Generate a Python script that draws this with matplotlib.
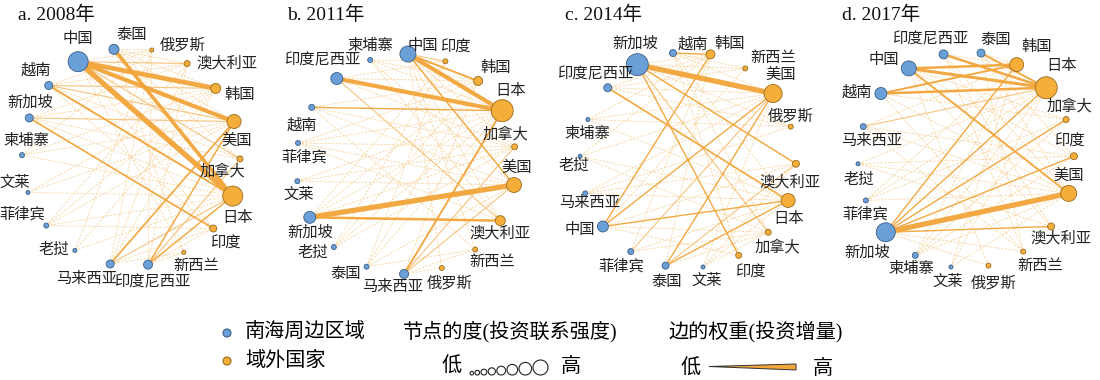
import numpy as np
import matplotlib.pyplot as plt
from matplotlib.patches import Circle, Polygon

plt.rcParams['font.family'] = ['Liberation Serif', 'Noto Sans CJK SC']

# =========================================================
# DATA
# =========================================================
# countries around the South China Sea (blue); everything else is "outside" (orange)
scs_countries = ["中国", "越南", "新加坡", "柬埔寨", "文莱", "菲律宾",
                 "老挝", "马来西亚", "印度尼西亚", "泰国"]

years = ["a. 2008年", "b. 2011年", "c. 2014年", "d. 2017年"]

# node order round the circle (clockwise) and node degree
nodes_2008 = ["中国", "泰国", "俄罗斯", "澳大利亚", "韩国", "美国", "加拿大", "日本", "印度",
              "新西兰", "印度尼西亚", "马来西亚", "老挝", "菲律宾", "文莱", "柬埔寨", "新加坡", "越南"]
degree_2008 = [10, 5, 2, 3, 5, 7, 3, 10, 3.5, 2, 4.5, 4, 2, 2.5, 2, 2.5, 4, 4]

nodes_2011 = ["中国", "印度", "韩国", "日本", "加拿大", "美国", "澳大利亚", "新西兰", "俄罗斯",
              "马来西亚", "泰国", "老挝", "新加坡", "文莱", "菲律宾", "越南", "印度尼西亚", "柬埔寨"]
degree_2011 = [8, 2.5, 4.5, 11, 3, 7.5, 5, 2.5, 2.5, 4.5, 2.5, 2.5, 6, 2.5, 2.5, 3, 6, 2.5]

nodes_2014 = ["新加坡", "越南", "韩国", "新西兰", "美国", "俄罗斯", "澳大利亚", "日本", "加拿大",
              "印度", "文莱", "泰国", "菲律宾", "中国", "马来西亚", "老挝", "柬埔寨", "印度尼西亚"]
degree_2014 = [11, 3.5, 4.5, 2.5, 9, 2.5, 3.5, 7, 3, 3, 2, 3.5, 3, 5.5, 2.5, 2, 2, 4]

nodes_2017 = ["中国", "印度尼西亚", "泰国", "韩国", "日本", "加拿大", "印度", "美国", "澳大利亚",
              "新西兰", "俄罗斯", "文莱", "柬埔寨", "新加坡", "菲律宾", "老挝", "马来西亚", "越南"]
degree_2017 = [7.5, 4.5, 4, 7, 11, 3, 3.5, 8, 3.5, 2.5, 2.5, 2, 3, 9.5, 2.5, 2, 3, 6]

# edges (investment increment) and weights
edges_2008 = ["中国-日本", "中国-韩国", "中国-美国", "泰国-日本",
              "越南-日本", "新加坡-印度", "马来西亚-美国", "印度尼西亚-美国", "印度尼西亚-日本",
              "越南-韩国", "越南-美国", "新加坡-美国", "中国-加拿大", "中国-澳大利亚", "马来西亚-日本",
              "印度尼西亚-加拿大",
              "泰国-俄罗斯", "泰国-澳大利亚", "泰国-韩国", "泰国-美国", "泰国-新西兰", "中国-俄罗斯",
              "中国-印度", "中国-新西兰", "越南-澳大利亚", "越南-加拿大", "越南-印度", "越南-俄罗斯",
              "新加坡-韩国", "新加坡-日本", "新加坡-澳大利亚", "新加坡-加拿大", "柬埔寨-韩国",
              "柬埔寨-美国", "柬埔寨-日本", "柬埔寨-俄罗斯", "文莱-美国", "文莱-日本", "文莱-韩国",
              "菲律宾-日本", "菲律宾-美国", "菲律宾-韩国", "菲律宾-澳大利亚", "菲律宾-印度",
              "老挝-日本", "老挝-韩国", "老挝-俄罗斯", "马来西亚-韩国", "马来西亚-澳大利亚",
              "马来西亚-俄罗斯", "马来西亚-新西兰", "印度尼西亚-澳大利亚", "印度尼西亚-俄罗斯",
              "印度尼西亚-新西兰", "印度尼西亚-印度", "马来西亚-印度", "泰国-加拿大"]
weight_2008 = [5, 4.5, 4, 3.5, 2, 1.8, 1.8, 1.6, 1.6] + [1.2] * 7 + [1] * 41

edges_2011 = ["新加坡-美国", "中国-日本", "印度尼西亚-日本", "新加坡-澳大利亚", "中国-韩国",
              "马来西亚-日本", "中国-美国", "越南-日本", "马来西亚-加拿大", "马来西亚-美国",
              "印度尼西亚-澳大利亚", "中国-印度",
              "柬埔寨-韩国", "柬埔寨-日本", "柬埔寨-印度", "柬埔寨-美国", "柬埔寨-澳大利亚",
              "中国-加拿大", "中国-澳大利亚", "中国-新西兰", "中国-俄罗斯", "越南-韩国", "越南-美国",
              "越南-加拿大", "越南-新西兰", "菲律宾-日本", "菲律宾-加拿大", "菲律宾-美国",
              "菲律宾-澳大利亚", "菲律宾-韩国", "文莱-日本", "文莱-加拿大", "文莱-美国", "新加坡-日本",
              "新加坡-韩国", "新加坡-加拿大", "新加坡-印度", "老挝-日本", "老挝-韩国", "老挝-加拿大",
              "老挝-印度", "泰国-日本", "泰国-韩国", "泰国-美国", "泰国-印度", "泰国-新西兰",
              "马来西亚-韩国", "马来西亚-新西兰", "马来西亚-俄罗斯", "印度尼西亚-韩国",
              "印度尼西亚-印度", "印度尼西亚-加拿大"]
weight_2011 = [5, 4, 4, 2.5, 2, 2, 1.6, 1.5, 1.2, 1.2, 1.2, 1.2] + [1] * 40

edges_2014 = ["新加坡-美国", "印度尼西亚-日本", "新加坡-澳大利亚", "新加坡-印度", "越南-韩国",
              "中国-韩国", "中国-日本", "中国-美国", "泰国-美国", "泰国-日本", "菲律宾-美国",
              "新加坡-加拿大", "泰国-澳大利亚",
              "越南-新西兰", "越南-美国", "越南-日本", "越南-印度", "越南-加拿大", "新加坡-韩国",
              "新加坡-新西兰", "新加坡-俄罗斯", "印度尼西亚-韩国", "印度尼西亚-新西兰",
              "印度尼西亚-美国", "印度尼西亚-俄罗斯", "柬埔寨-韩国", "柬埔寨-美国", "柬埔寨-日本",
              "柬埔寨-俄罗斯", "老挝-韩国", "老挝-日本", "老挝-美国", "老挝-加拿大", "马来西亚-日本",
              "马来西亚-美国", "马来西亚-俄罗斯", "马来西亚-澳大利亚", "中国-澳大利亚", "中国-加拿大",
              "中国-印度", "中国-新西兰", "菲律宾-日本", "菲律宾-加拿大", "菲律宾-韩国", "泰国-加拿大",
              "泰国-韩国", "文莱-日本", "文莱-加拿大", "文莱-澳大利亚", "文莱-美国"]
weight_2014 = [5, 1.8, 1.6, 1.5, 1.5, 1.5, 1.5, 1.5, 1.5, 1.5, 1.2, 1.2, 1.2] + [1] * 37

edges_2017 = ["新加坡-美国", "中国-日本", "中国-韩国", "越南-日本", "印度尼西亚-日本", "越南-韩国",
              "泰国-日本", "中国-美国", "新加坡-韩国", "新加坡-日本", "新加坡-加拿大", "新加坡-印度",
              "新加坡-澳大利亚", "马来西亚-日本",
              "印度尼西亚-韩国", "印度尼西亚-美国", "印度尼西亚-澳大利亚", "印度尼西亚-新西兰",
              "泰国-韩国", "泰国-美国", "泰国-印度", "泰国-新西兰", "中国-加拿大", "中国-印度",
              "中国-澳大利亚", "中国-俄罗斯", "越南-加拿大", "越南-美国", "越南-新西兰",
              "马来西亚-韩国", "马来西亚-美国", "马来西亚-印度", "老挝-日本", "老挝-印度", "老挝-美国",
              "老挝-澳大利亚", "菲律宾-日本", "菲律宾-韩国", "菲律宾-美国", "菲律宾-加拿大",
              "柬埔寨-日本", "柬埔寨-韩国", "柬埔寨-美国", "柬埔寨-加拿大", "柬埔寨-印度",
              "文莱-日本", "文莱-美国", "文莱-韩国", "新加坡-新西兰", "新加坡-俄罗斯", "马来西亚-新西兰"]
weight_2017 = [5, 3, 2.5, 2.5, 2.5, 2, 2, 2, 1.5, 1.5, 1.5, 1.5, 1.5, 1.2] + [1] * 37

# =========================================================
# LAYOUT (pixel space, y downwards)
# =========================================================
panels = [
    dict(center=(131, 157), radius=109, start=119, title_x=18,
         label_off={"中国": (0, -23), "泰国": (18, -14), "俄罗斯": (31, -5), "澳大利亚": (40, 0),
                    "韩国": (24, 6), "美国": (3, 19), "加拿大": (-18, 12), "日本": (5, 22),
                    "印度": (12, 15), "新西兰": (12, 14), "印度尼西亚": (4, 17), "马来西亚": (-24, 15),
                    "老挝": (-21, 0), "菲律宾": (-24, -11), "文莱": (-13, -10), "柬埔寨": (4, -14),
                    "新加坡": (1, -15), "越南": (-13, -15)}),
    dict(center=(406, 164), radius=110, start=89, title_x=287,
         label_off={"中国": (15, -8), "印度": (10, -14), "韩国": (17, -13), "日本": (8, -20),
                    "加拿大": (-9, -13), "美国": (3, -17), "澳大利亚": (0, 13), "新西兰": (17, 13),
                    "俄罗斯": (8, 15), "马来西亚": (-11, 13), "泰国": (-21, 8), "老挝": (-21, 6),
                    "新加坡": (0, 15), "文莱": (1, 13), "菲律宾": (6, 14), "越南": (-10, 18),
                    "印度尼西亚": (-15, -18), "柬埔寨": (0, -14)}),
    dict(center=(688, 160), radius=108, start=118, title_x=565,
         label_off={"新加坡": (-2, -21), "越南": (20, -9), "韩国": (19, -11), "新西兰": (28, -10),
                    "美国": (8, -19), "俄罗斯": (0, -11), "澳大利亚": (-6, 19), "日本": (0, 19),
                    "加拿大": (9, 15), "印度": (12, 17), "文莱": (4, 14), "泰国": (1, 17),
                    "菲律宾": (-10, 15), "中国": (-23, 4), "马来西亚": (4, 10), "老挝": (-6, 10),
                    "柬埔寨": (-1, 14), "印度尼西亚": (-13, -14)}),
    dict(center=(966, 160), radius=108, start=122, title_x=842,
         label_off={"中国": (-25, -8), "印度尼西亚": (-13, -15), "泰国": (15, -13), "韩国": (20, -18),
                    "日本": (15, -22), "加拿大": (3, -13), "印度": (-5, -15), "美国": (0, -18),
                    "澳大利亚": (10, 12), "新西兰": (17, 15), "俄罗斯": (5, 17), "文莱": (-3, 15),
                    "柬埔寨": (-4, 14), "新加坡": (-19, 20), "菲律宾": (-1, 14), "老挝": (1, 16),
                    "马来西亚": (8, 14), "越南": (-24, -1)}),
]

BLUE, BLUE_EDGE = "#6a9fd8", "#3b5f86"
ORANGE, ORANGE_EDGE = "#f6ae3a", "#9a6a1c"
LINE = "#f2a53a"


def edge_style(w):
    if w <= 1:
        return dict(color="#f9d8a6", lw=0.6, ls=(0, (3, 1.5)), zorder=1)
    if w < 1.5:
        return dict(color="#f6c47e", lw=0.8, ls="-", zorder=2)
    return dict(color=LINE, lw=0.8 * (w - 1) + 0.6, ls="-", zorder=3, alpha=0.95)


def draw_panel(ax, title, nodes, degree, edges, weights, lay):
    cx, cy = lay["center"]
    n = len(nodes)
    ang = np.deg2rad(lay["start"] - 360.0 / n * np.arange(n))
    xs = cx + lay["radius"] * np.cos(ang)
    ys = cy - lay["radius"] * np.sin(ang)
    pos = {name: (x, y) for name, x, y in zip(nodes, xs, ys)}

    order = np.argsort(weights)
    for k in order:
        a, b = edges[k].split("-")
        st = edge_style(weights[k])
        ax.plot([pos[a][0], pos[b][0]], [pos[a][1], pos[b][1]],
                solid_capstyle="butt", **st)

    for name, d in zip(nodes, degree):
        inside = name in scs_countries
        ax.add_patch(Circle(pos[name], radius=d,
                            facecolor=BLUE if inside else ORANGE,
                            edgecolor=BLUE_EDGE if inside else ORANGE_EDGE,
                            lw=0.6, zorder=5))
        dx, dy = lay["label_off"][name]
        ax.text(pos[name][0] + dx, pos[name][1] + dy, name, fontsize=11,
                ha="center", va="center", color="#222222", zorder=6)

    ax.text(lay["title_x"], 15, title, fontsize=14, ha="left", va="center", color="#111111")


fig = plt.figure(figsize=(11, 3.8), dpi=100)
ax = fig.add_axes([0, 0, 1, 1])
ax.set_xlim(0, 1100)
ax.set_ylim(380, 0)
ax.axis("off")

all_nodes = [nodes_2008, nodes_2011, nodes_2014, nodes_2017]
all_deg = [degree_2008, degree_2011, degree_2014, degree_2017]
all_edges = [edges_2008, edges_2011, edges_2014, edges_2017]
all_w = [weight_2008, weight_2011, weight_2014, weight_2017]
for i in range(4):
    draw_panel(ax, years[i], all_nodes[i], all_deg[i], all_edges[i], all_w[i], panels[i])

# ---------------- legend ----------------
LEG_FS = 14.5
ax.add_patch(Circle((227, 333), 4, facecolor=BLUE, edgecolor=BLUE_EDGE, lw=0.8))
ax.text(245, 333, "南海周边区域", fontsize=LEG_FS, ha="left", va="center")
ax.add_patch(Circle((227, 361), 4, facecolor=ORANGE, edgecolor=ORANGE_EDGE, lw=0.8))
ax.text(245, 361, "域外国家", fontsize=LEG_FS, ha="left", va="center")

ax.text(403, 332, "节点的度(投资联系强度)", fontsize=LEG_FS, ha="left", va="center")
ax.text(452, 367, "低", fontsize=LEG_FS, ha="center", va="center")
ax.text(571, 367, "高", fontsize=LEG_FS, ha="center", va="center")
leg_r = [1.8, 2.3, 2.9, 3.6, 4.4, 5.3, 6.3, 7.5]
x0 = 470
for r in leg_r:
    ax.add_patch(Circle((x0 + r, 375 - r), r, facecolor="white", edgecolor="#222222", lw=0.8))
    x0 += 2 * r + 1.4

ax.text(669, 332, "边的权重(投资增量)", fontsize=LEG_FS, ha="left", va="center")
ax.text(691, 369, "低", fontsize=LEG_FS, ha="center", va="center")
ax.text(823, 369, "高", fontsize=LEG_FS, ha="center", va="center")
ax.add_patch(Polygon([(709, 366.5), (796, 364), (796, 370)], closed=True,
                     facecolor=LINE, edgecolor="#333333", lw=0.7))

fig.savefig("out.png", dpi=100)
